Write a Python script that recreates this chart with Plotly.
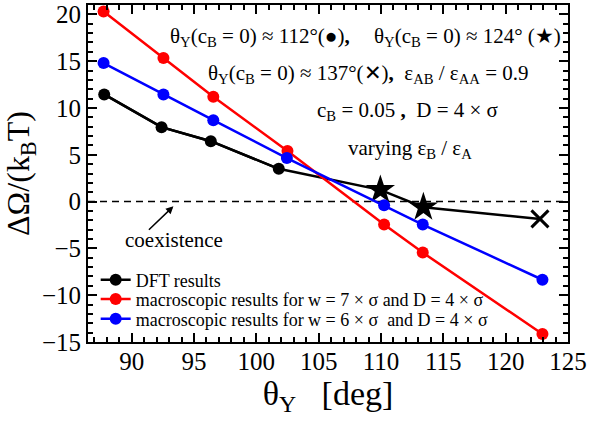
import plotly.graph_objects as go

# ---- data ----
dft_x = [87.8, 92.4, 96.35, 101.8, 109.95, 113.4, 122.75]
dft_y = [11.45, 7.95, 6.45, 3.5, 1.25, -0.6, -1.85]

red_x = [87.75, 92.55, 96.55, 102.5, 110.25, 113.35, 122.95]
red_y = [20.3, 15.35, 11.2, 5.4, -2.45, -5.45, -14.15]

blue_x = [87.75, 92.55, 96.55, 102.45, 110.25, 113.35, 122.95]
blue_y = [14.8, 11.45, 8.7, 4.65, -0.4, -2.45, -8.35]

x_ticks = [90, 95, 100, 105, 110, 115, 120, 125]
y_ticks = [-15, -10, -5, 0, 5, 10, 15, 20]

FONT = "Liberation Serif"
NB = "\u00a0"

fig = go.Figure()

# DFT line through all points
fig.add_trace(go.Scatter(x=dft_x, y=dft_y, mode="lines",
                         line=dict(color="black", width=2.5),
                         showlegend=False, hoverinfo="skip"))
# DFT circles (legend entry)
fig.add_trace(go.Scatter(x=dft_x[:4], y=dft_y[:4], mode="lines+markers",
                         name="DFT results", legend="legend",
                         line=dict(color="black", width=2.5),
                         marker=dict(symbol="circle", size=12, color="black")))
# stars
fig.add_trace(go.Scatter(x=dft_x[4:6], y=dft_y[4:6], mode="markers",
                         marker=dict(symbol="star", size=22, color="black"),
                         showlegend=False))
# cross
fig.add_trace(go.Scatter(x=dft_x[6:], y=dft_y[6:], mode="markers",
                         marker=dict(symbol="x-thin", size=17, color="black",
                                     line=dict(color="black", width=3)),
                         showlegend=False))

fig.add_trace(go.Scatter(x=red_x, y=red_y, mode="lines+markers",
                         name="macroscopic results for w = 7 × σ and D = 4 × σ",
                         legend="legend2",
                         line=dict(color="#ff0000", width=2.5),
                         marker=dict(symbol="circle", size=12, color="#ff0000")))
fig.add_trace(go.Scatter(x=blue_x, y=blue_y, mode="lines+markers",
                         name="macroscopic results for w = 6 × σ " + NB + "and D = 4 × σ",
                         legend="legend3",
                         line=dict(color="#0000ff", width=2.5),
                         marker=dict(symbol="circle", size=12, color="#0000ff")))

# coexistence dashed line at zero
fig.add_shape(type="line", xref="paper", x0=0, x1=1, yref="y", y0=0, y1=0,
              line=dict(color="black", width=1.5, dash="7px,5px"), layer="below")

ann_font = dict(family=FONT, size=21, color="black")
annotations = [
    dict(text="θ<sub>Y</sub>(c<sub>B</sub> = 0) ≈ 112°(●)<b>,</b>", x=0.166, y=0.905,
         xanchor="left", yanchor="middle"),
    dict(text="θ<sub>Y</sub>(c<sub>B</sub> = 0) ≈ 124° (★)", x=0.592, y=0.905,
         xanchor="left", yanchor="middle"),
    dict(text="θ<sub>Y</sub>(c<sub>B</sub> = 0) ≈ 137°(✕)<b>,</b>" + NB * 2 +
              "ε<sub>AB</sub> / ε<sub>AA</sub> = 0.9",
         x=0.245, y=0.795, xanchor="left", yanchor="middle"),
    dict(text="c<sub>B</sub> = 0.05 <b>,</b>" + NB * 2 + "D = 4 × σ", x=0.666, y=0.686,
         xanchor="center", yanchor="middle"),
    dict(text="varying ε<sub>B</sub> / ε<sub>A</sub>", x=0.67, y=0.573,
         xanchor="center", yanchor="middle"),
    dict(text="coexistence", x=0.18, y=0.302, xanchor="center", yanchor="middle"),
]
for a in annotations:
    fig.add_annotation(xref="paper", yref="paper", showarrow=False, font=ann_font, **a)

fig.add_annotation(x=93.35, y=-0.5, xref="x", yref="y", text="", showarrow=True,
                   ax=-26, ay=25, arrowhead=2, arrowsize=1, arrowwidth=1.5,
                   arrowcolor="black")

axis_common = dict(showline=True, linewidth=2, linecolor="black", mirror="ticks",
                   ticks="inside", ticklen=9, tickwidth=2, tickcolor="black",
                   showgrid=False, zeroline=False,
                   tickfont=dict(family=FONT, size=25, color="black"))

fig.update_xaxes(range=[86.5, 125], tickvals=x_ticks, ticklabelstandoff=-4,
                 minor=dict(dtick=1, tick0=90, ticks="inside", ticklen=5,
                            tickwidth=1.5, tickcolor="black", showgrid=False),
                 title=dict(text="θ<sub>Y</sub>" + NB * 3 + "[deg]",
                            font=dict(family=FONT, size=34, color="black"),
                            standoff=0),
                 **axis_common)
fig.update_yaxes(range=[-15, 21], tickvals=y_ticks,
                 minor=dict(dtick=1, tick0=0, ticks="inside", ticklen=5,
                            tickwidth=1.5, tickcolor="black", showgrid=False),
                 title=dict(text="ΔΩ/(k<sub>B</sub>T)",
                            font=dict(family=FONT, size=32, color="black"),
                            standoff=6),
                 **axis_common)

leg_common = dict(x=0.016, xanchor="left", yanchor="middle",
                  bgcolor="rgba(0,0,0,0)", borderwidth=0,
                  font=dict(family=FONT, size=18, color="black"),
                  tracegroupgap=0, itemwidth=30)

fig.update_layout(
    width=590, height=424,
    margin=dict(l=88, r=22, t=5, b=82, autoexpand=False),
    plot_bgcolor="white", paper_bgcolor="white",
    showlegend=True,
    legend=dict(y=0.184, **leg_common),
    legend2=dict(y=0.127, **leg_common),
    legend3=dict(y=0.068, **leg_common),
)

fig.write_html("out.html", config={"displayModeBar": False},
               post_script="document.body.style.margin='0';document.body.style.padding='0';")
